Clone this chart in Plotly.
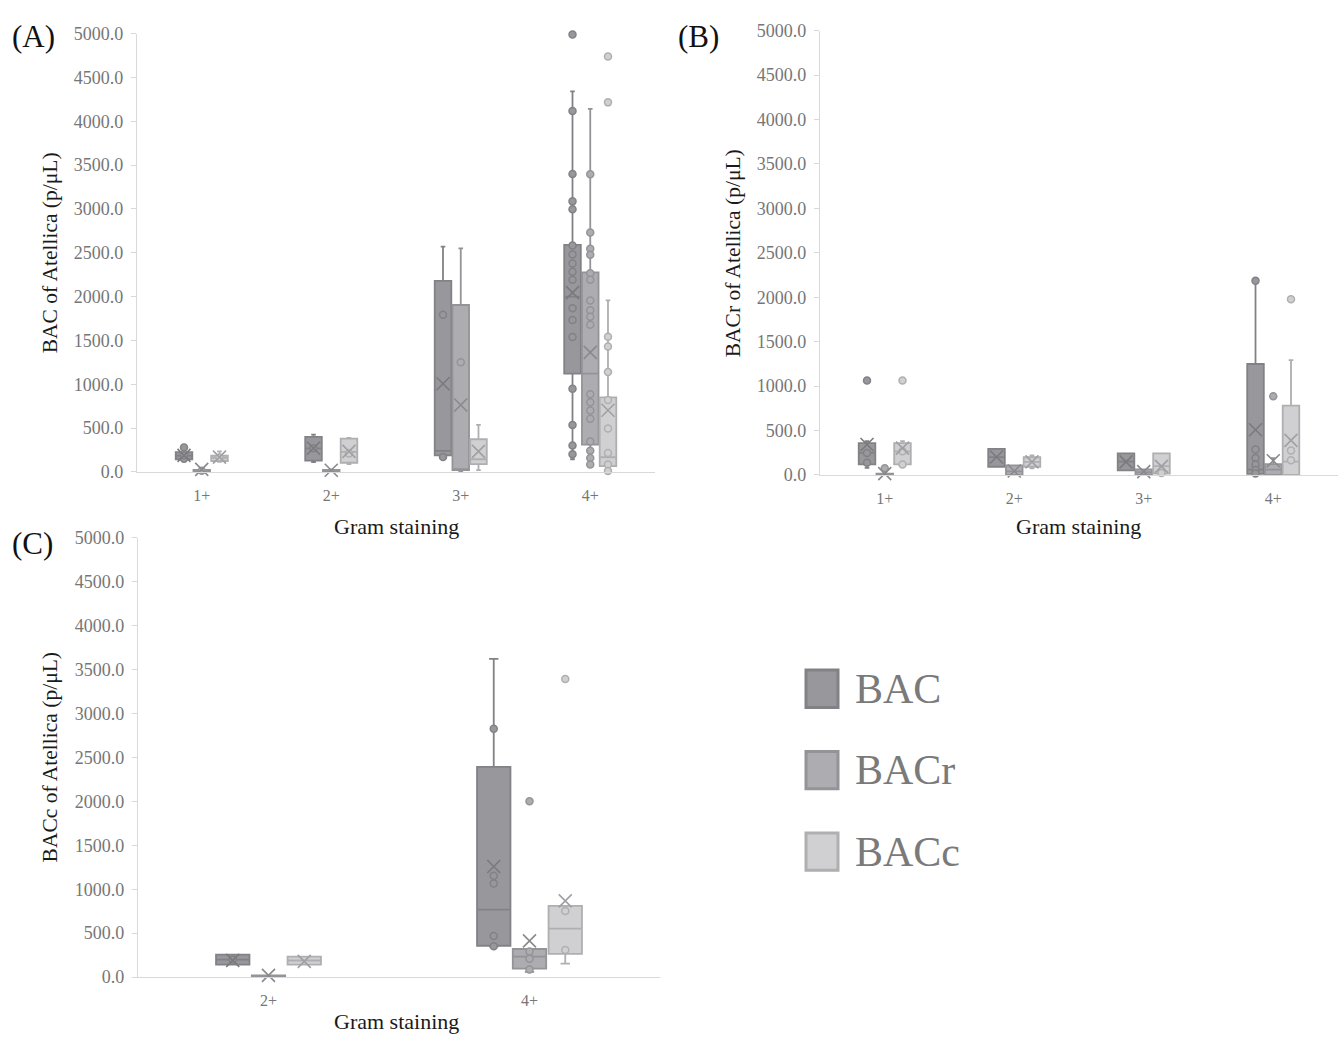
import plotly.graph_objects as go

# ---------------- data ----------------
SERIES = ["BAC", "BACr", "BACc"]

# Panel A : BAC of Atellica
A_CATS = ["1+", "2+", "3+", "4+"]
A_Q1 = [[145, 130, 190, 1122], [3, 5, 22, 313], [125, 105, 89, 67]]
A_MED = [[185, 270, 240, 2000], [10, 15, 30, 1121], [160, 230, 145, 168]]
A_Q3 = [[225, 400, 2180, 2590], [25, 25, 1904, 2277], [185, 380, 373, 850]]
A_LO = [[130, 112, 171, 145], [0, 0, 0, 86], [115, 90, 22, 11]]
A_HI = [[280, 425, 2570, 4340], [35, 30, 2550, 4140], [235, 390, 537, 1956]]
A_MEAN = [[190, 270, 1006, 2046], [30, 20, 764, 1364], [170, 235, 235, 704]]
A_PTS = [
    [[150, 190, 280], [270], [171, 1792],
     [4990, 4118, 3399, 3086, 2996, 2583, 2479, 2378, 2284, 2191, 1867, 1733, 1539, 950, 537, 302, 201]],
    [[15], [], [1252],
     [3395, 2731, 2545, 2478, 2266, 2191, 1956, 1845, 1770, 1680, 887, 794, 701, 607, 347, 243, 160, 86]],
    [[165], [212], [],
     [4737, 4215, 1543, 1431, 1140, 820, 496, 216, 86, 11]],
]

# Panel B : BACr of Atellica
B_CATS = ["1+", "2+", "3+", "4+"]
B_Q1 = [[118, 92, 52, 11], [0, 0, 0, 0], [118, 92, 15, 0]]
B_MED = [[247, 200, 150, 60], [5, 40, 30, 60], [265, 147, 100, 150]]
B_Q3 = [[357, 294, 243, 1248], [15, 108, 63, 121], [357, 199, 243, 780]]
B_LO = [[80, 92, 52, 0], [0, 0, 0, 0], [118, 74, 0, 0]]
B_HI = [[380, 294, 243, 2186], [20, 108, 63, 188], [380, 221, 243, 1292]]
B_MEAN = [[342, 202, 147, 508], [15, 44, 37, 160], [302, 147, 96, 389]]
B_PTS = [
    [[1063, 247, 136], [], [], [2186, 287, 191, 118, 55, 15]],
    [[74], [], [], [884]],
    [[1063, 265, 118], [], [22], [1976, 276, 166]],
]

# Panel C : BACc of Atellica
C_CATS = ["2+", "4+"]
C_Q1 = [[141, 357], [0, 97], [141, 264]]
C_MED = [[198, 767], [10, 234], [189, 551]]
C_Q3 = [[255, 2392], [19, 320], [234, 811]]
C_LO = [[141, 350], [0, 59], [141, 153]]
C_HI = [[255, 3620], [19, 320], [234, 811]]
C_MEAN = [[190, 1258], [20, 413], [179, 867]]
C_PTS = [
    [[198], [2827, 1153, 1064, 469, 350]],
    [[], [2001, 290, 208, 86]],
    [[], [3393, 753, 309]],
]

Y_TITLES = ["BAC of Atellica (p/μL)", "BACr of Atellica (p/μL)", "BACc of Atellica (p/μL)"]
X_TITLE = "Gram staining"
PANEL_LABELS = ["(A)", "(B)", "(C)"]

# ---------------- style ----------------
FILL = ["#98989c", "#adadb1", "#d0d0d2"]
LINE = ["#828286", "#949498", "#afafb2"]
MEANC = ["#7a7a7e", "#8a8a8e", "#a0a0a3"]
FONT = "Liberation Serif"
TICKC = "#767676"
AXC = "#d9d9d9"
W, H = 1344, 1044

OFFSETS = [-0.137, 0.0, 0.137]
BOXW = 0.128

panels = [
    dict(cats=A_CATS, q1=A_Q1, med=A_MED, q3=A_Q3, lo=A_LO, hi=A_HI, mean=A_MEAN, pts=A_PTS,
         px=(137, 655), py=(24, 471)),
    dict(cats=B_CATS, q1=B_Q1, med=B_MED, q3=B_Q3, lo=B_LO, hi=B_HI, mean=B_MEAN, pts=B_PTS,
         px=(820, 1338), py=(21, 474)),
    dict(cats=C_CATS, q1=C_Q1, med=C_MED, q3=C_Q3, lo=C_LO, hi=C_HI, mean=C_MEAN, pts=C_PTS,
         px=(138, 660), py=(538, 986)),
]

fig = go.Figure()

for k, p in enumerate(panels):
    xa = "x" if k == 0 else "x%d" % (k + 1)
    ya = "y" if k == 0 else "y%d" % (k + 1)
    n = len(p["cats"])
    for s, name in enumerate(SERIES):
        xs = [i + 1 + OFFSETS[s] for i in range(n)]
        fig.add_trace(go.Box(
            name=name, x=xs, q1=p["q1"][s], median=p["med"][s], q3=p["q3"][s],
            lowerfence=p["lo"][s], upperfence=p["hi"][s],
            width=BOXW, whiskerwidth=0.28, boxpoints=False,
            fillcolor=FILL[s], line=dict(color=LINE[s], width=1.8),
            xaxis=xa, yaxis=ya, showlegend=False, hoverinfo="skip"))
        # individual data points
        px_, py_ = [], []
        for i in range(n):
            for v in p["pts"][s][i]:
                px_.append(xs[i])
                py_.append(v)
        fig.add_trace(go.Scatter(
            x=px_, y=py_, mode="markers", cliponaxis=False,
            marker=dict(symbol="circle", size=7, color=FILL[s],
                        line=dict(color=LINE[s], width=1.5)),
            xaxis=xa, yaxis=ya, showlegend=False, hoverinfo="skip"))
        # mean markers (X)
        fig.add_trace(go.Scatter(
            x=xs, y=p["mean"][s], mode="markers", cliponaxis=False,
            marker=dict(symbol="x-thin", size=13,
                        line=dict(color=MEANC[s], width=1.6)),
            xaxis=xa, yaxis=ya, showlegend=False, hoverinfo="skip"))

layout = dict(
    width=W, height=H, margin=dict(l=0, r=0, t=0, b=0),
    paper_bgcolor="white", plot_bgcolor="white",
    font=dict(family=FONT, color="#222222"),
    showlegend=False,
)
for k, p in enumerate(panels):
    sfx = "" if k == 0 else str(k + 1)
    n = len(p["cats"])
    layout["xaxis" + sfx] = dict(
        domain=[p["px"][0] / W, p["px"][1] / W], anchor="y" + sfx,
        range=[0.5, n + 0.5], tickvals=list(range(1, n + 1)), ticktext=p["cats"],
        showline=True, linecolor=AXC, linewidth=1.3, ticks="", showgrid=False,
        zeroline=False, ticklabelstandoff=9,
        tickfont=dict(family=FONT, size=16, color=TICKC))
    layout["yaxis" + sfx] = dict(
        domain=[1 - p["py"][1] / H, 1 - p["py"][0] / H], anchor="x" + sfx,
        range=[0, 5000], dtick=500, tickformat=".1f",
        showline=True, linecolor=AXC, linewidth=1.3, ticks="outside", ticklen=5,
        tickcolor=AXC, showgrid=False, zeroline=False, ticklabelstandoff=4,
        tickfont=dict(family=FONT, size=18, color=TICKC))

annotations = []
title_pos = [((50, 248), (396, 527), (10, 27)),
             ((733, 248), (1078, 527), (676, 27)),
             ((50, 762), (396, 1031), (10, 544))]
for k in range(3):
    (yx, yy), (xx, xy), (lx, ly) = title_pos[k]
    annotations.append(dict(text=Y_TITLES[k], x=yx / W, y=1 - yy / H, xref="paper", yref="paper",
                            textangle=-90, showarrow=False, xanchor="center", yanchor="middle",
                            font=dict(family=FONT, size=21.5, color="#1a1a1a")))
    annotations.append(dict(text=X_TITLE, x=xx / W, y=1 - xy / H, xref="paper", yref="paper",
                            showarrow=False, xanchor="center", yanchor="middle",
                            font=dict(family=FONT, size=22, color="#1a1a1a")))
    annotations.append(dict(text=PANEL_LABELS[k], x=lx / W, y=1 - ly / H, xref="paper", yref="paper",
                            showarrow=False, xanchor="left", yanchor="middle",
                            font=dict(family=FONT, size=31, color="#111111")))

# legend (drawn manually with large swatches, as in the reference)
shapes = []
leg_y = [692, 775, 858]
for s, name in enumerate(SERIES):
    cy = leg_y[s]
    shapes.append(dict(type="rect", xref="paper", yref="paper",
                       x0=806 / W, x1=838 / W, y0=1 - (cy + 19) / H, y1=1 - (cy - 19) / H,
                       fillcolor=FILL[s], line=dict(color=LINE[s], width=3)))
    annotations.append(dict(text=name, x=853 / W, y=1 - cy / H, xref="paper", yref="paper",
                            showarrow=False, xanchor="left", yanchor="middle",
                            font=dict(family=FONT, size=42, color="#7a7a7a")))

layout["annotations"] = annotations
layout["shapes"] = shapes
fig.update_layout(**layout)

POST = ("document.documentElement.style.margin='0px';"
        "document.body.style.margin='0px';document.body.style.overflow='hidden';"
        "var gd=document.getElementById('{plot_id}');"
        "gd.style.position='fixed';gd.style.left='0px';gd.style.top='0px';")

fig.write_html("out.html", config={"displayModeBar": False, "responsive": False},
               post_script=POST)
